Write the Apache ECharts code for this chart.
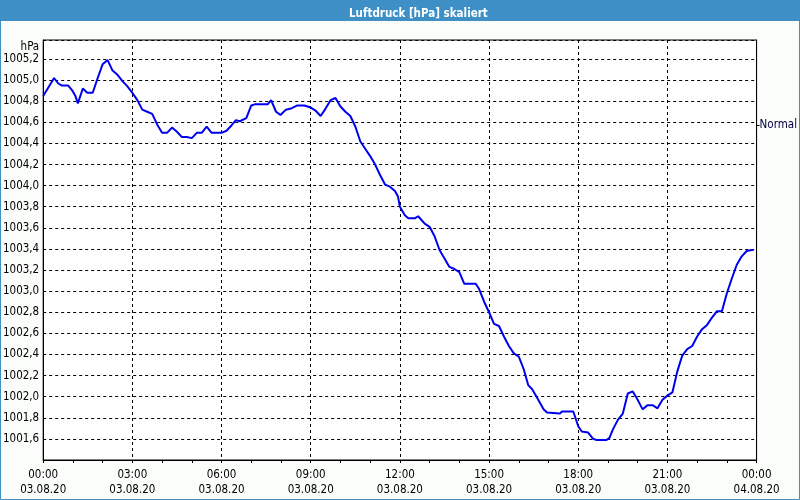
<!DOCTYPE html>
<html>
<head>
<meta charset="utf-8">
<script src="https://cdn.jsdelivr.net/npm/echarts@6/dist/echarts.min.js"></script>
<style>
html,body{margin:0;padding:0;background:#fbfdfb;}
#chart{width:800px;height:500px;}
</style>
</head>
<body>
<div id="chart"></div>
<script>
// time in minutes after 03.08.20 00:00
var minutes = [0,22,30,37,50,59,65,70,80,89,100,110,120,130,140,150,160,170,180,190,200,210,220,230,240,250,260,270,280,290,300,310,320,330,340,360,370,380,389,397,401,410,420,427,453,460,470,479,490,500,513,527,540,550,560,570,580,590,600,610,620,630,640,650,660,670,680,690,700,710,716,720,730,737,750,757,761,770,780,790,800,810,820,830,840,850,873,880,890,900,910,920,930,940,950,960,970,979,987,997,1010,1017,1043,1047,1070,1080,1087,1100,1110,1117,1137,1143,1150,1160,1170,1180,1190,1200,1210,1220,1230,1240,1250,1260,1270,1280,1290,1300,1310,1320,1330,1340,1350,1360,1370,1380,1390,1400,1410,1420,1430,1434];
var pressure = [1004.85,1005.02,1004.97,1004.95,1004.95,1004.90,1004.85,1004.78,1004.92,1004.88,1004.88,1005.02,1005.15,1005.19,1005.09,1005.05,1004.99,1004.94,1004.88,1004.81,1004.72,1004.70,1004.68,1004.58,1004.50,1004.50,1004.55,1004.51,1004.46,1004.46,1004.45,1004.50,1004.50,1004.56,1004.50,1004.50,1004.52,1004.57,1004.62,1004.61,1004.60,1004.64,1004.76,1004.77,1004.77,1004.81,1004.70,1004.67,1004.72,1004.73,1004.76,1004.76,1004.74,1004.71,1004.66,1004.73,1004.81,1004.83,1004.75,1004.70,1004.66,1004.56,1004.42,1004.35,1004.28,1004.20,1004.10,1004.01,1003.99,1003.95,1003.90,1003.80,1003.72,1003.69,1003.69,1003.71,1003.72,1003.64,1003.61,1003.52,1003.39,1003.31,1003.23,1003.21,1003.18,1003.07,1003.07,1003.02,1002.90,1002.80,1002.69,1002.67,1002.57,1002.48,1002.41,1002.38,1002.26,1002.11,1002.07,1001.99,1001.88,1001.85,1001.84,1001.86,1001.86,1001.72,1001.67,1001.66,1001.60,1001.59,1001.59,1001.61,1001.69,1001.78,1001.84,1002.03,1002.05,1001.97,1001.88,1001.92,1001.92,1001.89,1001.97,1002.01,1002.04,1002.24,1002.39,1002.45,1002.48,1002.57,1002.64,1002.68,1002.75,1002.81,1002.81,1002.98,1003.12,1003.25,1003.33,1003.38,1003.39,1003.39];

var xTickValues = [0,180,360,540,720,900,1080,1260,1440];
var xTickTimes = ['00:00','03:00','06:00','09:00','12:00','15:00','18:00','21:00','00:00'];
var xTickDates = ['03.08.20','03.08.20','03.08.20','03.08.20','03.08.20','03.08.20','03.08.20','03.08.20','04.08.20'];
var yTicks = [1001.6,1001.8,1002.0,1002.2,1002.4,1002.6,1002.8,1003.0,1003.2,1003.4,1003.6,1003.8,1004.0,1004.2,1004.4,1004.6,1004.8,1005.0,1005.2];
var normalValue = [1004.575];
var normalLabel = 'Normal';
var titleText = 'Luftdruck [hPa] skaliert';
var unitText = 'hPa';

var FONT = '"DejaVu Sans Condensed", "Liberation Sans", sans-serif';
var chart = echarts.init(document.getElementById('chart'), null, {renderer:'canvas'});
var yMin = 1001.4, yMax = 1005.38;

chart.setOption({
  animation:false,
  backgroundColor:'#fbfdfb',
  title:{
    text:titleText, left:344, top:3,
    textStyle:{color:'#ffffff', fontFamily:FONT, fontWeight:'bold', fontSize:11.5}
  },
  graphic:[
    {type:'rect', z:-1, shape:{x:0,y:0,width:800,height:21}, style:{fill:'#3d8fc6'}},
    {type:'rect', z:-1, shape:{x:0.5,y:0.5,width:799,height:499}, style:{fill:'none', stroke:'#3d8fc6', lineWidth:1}}
  ],
  grid:{left:40, right:40, top:40, bottom:40, show:true, borderColor:'#000', borderWidth:1, backgroundColor:'#ffffff'},
  xAxis:{
    type:'value', min:0, max:1440, interval:180,
    axisLine:{show:true, lineStyle:{color:'#000', width:1}},
    axisTick:{show:true, length:3, lineStyle:{color:'#000'}},
    minorTick:{show:true, splitNumber:3, length:3, lineStyle:{color:'#000'}},
    splitLine:{show:true, lineStyle:{color:'#000', type:[3,3], width:1}},
    axisLabel:{
      margin:8, color:'#000', fontFamily:FONT, fontSize:11.5, lineHeight:15,
      formatter:function(v){
        var i = xTickValues.indexOf(v);
        return i < 0 ? '' : xTickTimes[i] + '\n' + xTickDates[i];
      }
    }
  },
  yAxis:[{
    type:'value', min:yMin, max:yMax, interval:0.2,
    name:unitText, nameLocation:'end', nameGap:-7,
    nameTextStyle:{color:'#000', fontFamily:FONT, fontSize:11.5, align:'right', verticalAlign:'middle', padding:[0,4,0,0]},
    axisLine:{show:true, lineStyle:{color:'#000', width:1}},
    axisTick:{show:false},
    splitLine:{show:true, lineStyle:{color:'#000', type:[3,3], width:1}},
    axisLabel:{
      customValues:yTicks, margin:4, color:'#000', fontFamily:FONT, fontSize:11.5,
      formatter:function(v){ return v.toFixed(1).replace('.', ','); }
    }
  },{
    type:'value', position:'right', min:yMin, max:yMax,
    axisLine:{show:true, lineStyle:{color:'#000', width:1}},
    axisTick:{show:true, customValues:normalValue, length:3, lineStyle:{color:'#000'}},
    splitLine:{show:false},
    axisLabel:{
      customValues:normalValue, margin:3, color:'#000040', fontFamily:FONT, fontSize:11.5,
      formatter:function(){ return normalLabel; }
    }
  }],
  series:[{
    type:'line',
    data:minutes.map(function(m,i){ return [m, pressure[i]]; }),
    showSymbol:false, symbol:'none',
    lineStyle:{color:'#0000f0', width:2},
    z:5
  }]
});
</script>
</body>
</html>
